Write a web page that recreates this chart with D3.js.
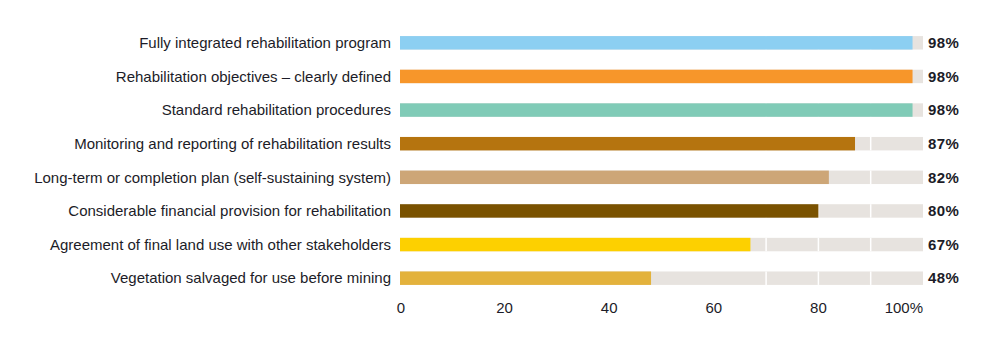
<!DOCTYPE html>
<html>
<head>
<meta charset="utf-8">
<script src="https://cdn.jsdelivr.net/npm/d3@7"></script>
<style>
  body { margin: 0; background: #fff; }
  text { font-family: "Liberation Sans", Arial, sans-serif; }
</style>
</head>
<body>
<div id="chart"></div>
<script>
// chart data
const categories = [
  "Fully integrated rehabilitation program",
  "Rehabilitation objectives \u2013 clearly defined",
  "Standard rehabilitation procedures",
  "Monitoring and reporting of rehabilitation results",
  "Long-term or completion plan (self-sustaining system)",
  "Considerable financial provision for rehabilitation",
  "Agreement of final land use with other stakeholders",
  "Vegetation salvaged for use before mining"
];
const values = [98, 98, 98, 87, 82, 80, 67, 48];
const colors = ["#8ccff2", "#f7962a", "#80cbb7", "#b5740f", "#cda677", "#7a5200", "#fdd000", "#e3b23c"];
const tickValues = [0, 20, 40, 60, 80, 100];
const tickLabels = ["0", "20", "40", "60", "80", "100%"];
const gapTicks = [70, 80, 90];

class BarChart {
  constructor(opts) {
    this.element = opts.element;
    this.width = 996;
    this.height = 350;
    this.margin = { top: 26, right: 73, bottom: 55, left: 400 };
    this.draw();
  }

  draw() {
    this.svg = d3.select(this.element).append('svg')
      .attr('width', this.width)
      .attr('height', this.height);
    this.createScales();
    this.addBars();
    this.addLabels();
    this.addAxis();
  }

  createScales() {
    this.x = d3.scaleLinear()
      .domain([0, 100])
      .range([this.margin.left, this.width - this.margin.right]);
    this.y = d3.scaleBand()
      .domain(categories)
      .range([this.margin.top, this.height - this.margin.bottom])
      .paddingInner(0.6)
      .paddingOuter(0.3);
  }

  addBars() {
    const that = this;
    const rows = this.svg.selectAll('g.row')
      .data(categories)
      .enter()
      .append('g')
      .classed('row', true);

    // grey background track
    rows.append('rect')
      .attr('x', that.x(0))
      .attr('y', d => that.y(d))
      .attr('width', that.x(100) - that.x(0))
      .attr('height', that.y.bandwidth())
      .attr('fill', '#e7e3df');

    // white separators in the track
    rows.selectAll('line.gap')
      .data(d => gapTicks.map(t => ({ cat: d, t: t })))
      .enter()
      .append('line')
      .classed('gap', true)
      .attr('x1', d => that.x(d.t))
      .attr('x2', d => that.x(d.t))
      .attr('y1', d => that.y(d.cat))
      .attr('y2', d => that.y(d.cat) + that.y.bandwidth())
      .attr('stroke', '#fff')
      .attr('stroke-width', 1.5);

    // value bars
    rows.append('rect')
      .attr('x', that.x(0))
      .attr('y', d => that.y(d))
      .attr('width', (d, i) => that.x(values[i]) - that.x(0))
      .attr('height', that.y.bandwidth())
      .attr('fill', (d, i) => colors[i]);
  }

  addLabels() {
    const that = this;
    const mid = d => that.y(d) + that.y.bandwidth() / 2;

    this.svg.selectAll('text.cat')
      .data(categories)
      .enter()
      .append('text')
      .classed('cat', true)
      .attr('x', that.x(0) - 9)
      .attr('y', mid)
      .attr('dy', '0.35em')
      .attr('text-anchor', 'end')
      .style('font-size', '15px')
      .style('fill', '#1c1c28')
      .text(d => d);

    this.svg.selectAll('text.val')
      .data(categories)
      .enter()
      .append('text')
      .classed('val', true)
      .attr('x', that.x(100) + 5)
      .attr('y', mid)
      .attr('dy', '0.35em')
      .style('font-size', '15px')
      .style('font-weight', 'bold')
      .style('letter-spacing', '0.4px')
      .style('fill', '#1c1c28')
      .text((d, i) => values[i] + '%');
  }

  addAxis() {
    const that = this;
    const axisY = 308;
    this.svg.selectAll('text.tick')
      .data(tickValues)
      .enter()
      .append('text')
      .classed('tick', true)
      .attr('x', d => that.x(d) + (d === 0 ? 1 : 0))
      .attr('y', axisY)
      .attr('dy', '0.35em')
      .attr('text-anchor', d => d === 100 ? 'end' : 'middle')
      .style('font-size', '15px')
      .style('fill', '#1c1c28')
      .text((d, i) => tickLabels[i]);
  }
}

new BarChart({ element: '#chart' });
</script>
</body>
</html>
